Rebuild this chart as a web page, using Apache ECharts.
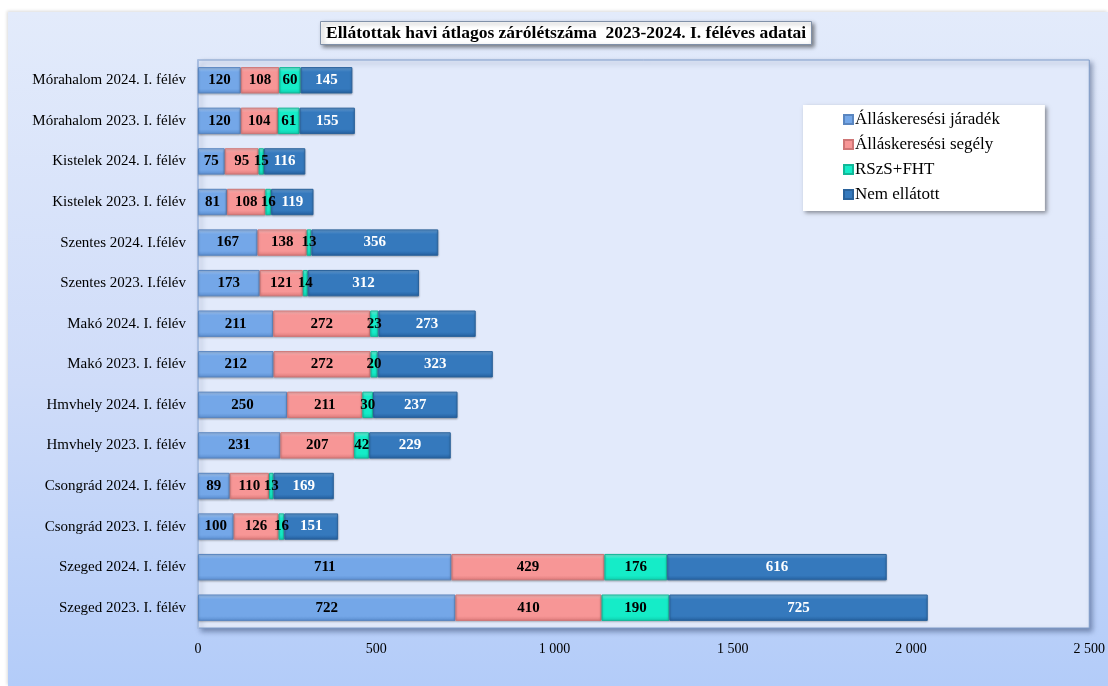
<!DOCTYPE html>
<html>
<head>
<meta charset="utf-8">
<script src="https://cdn.jsdelivr.net/npm/echarts@6/dist/echarts.min.js"></script>
<style>
  html, body { margin: 0; padding: 0; background: #ffffff; }
  #wrap { position: absolute; left: 0; top: 0; width: 1108px; height: 686px; overflow: hidden; }
  #panel { position: absolute; left: 8px; top: 12px; right: 0; bottom: 0;
           background: linear-gradient(to bottom, #e3ebfb 0%, #cfdcf9 55%, #b3ccf9 100%);
           box-shadow: -1px -1px 3px rgba(0,0,0,0.15); }
  #chart { position: absolute; left: 0; top: 0; width: 1108px; height: 686px; }
</style>
</head>
<body>
<div id="wrap">
  <div id="panel"></div>
  <div id="chart"></div>
</div>
<script>
// kategóriák alulról felfelé
const categories = [
  'Szeged 2023. I. félév', 'Szeged 2024. I. félév',
  'Csongrád 2023. I. félév', 'Csongrád 2024. I. félév',
  'Hmvhely 2023. I. félév', 'Hmvhely 2024. I. félév',
  'Makó 2023. I. félév', 'Makó 2024. I. félév',
  'Szentes 2023. I.félév', 'Szentes 2024. I.félév',
  'Kistelek 2023. I. félév', 'Kistelek 2024. I. félév',
  'Mórahalom 2023. I. félév', 'Mórahalom 2024. I. félév'
];
const jaradek = [722, 711, 100, 89, 231, 250, 212, 211, 173, 167, 81, 75, 120, 120];
const segely  = [410, 429, 126, 110, 207, 211, 272, 272, 121, 138, 108, 95, 104, 108];
const rszs    = [190, 176, 16, 13, 42, 30, 20, 23, 14, 13, 16, 15, 61, 60];
const nemEll  = [725, 616, 151, 169, 229, 237, 323, 273, 312, 356, 119, 116, 155, 145];
const seriesNames = ['Álláskeresési járadék', 'Álláskeresési segély', 'RSzS+FHT', 'Nem ellátott'];

const serif = '"Liberation Serif", "Times New Roman", serif';

function bevel(top, mid, bottom) {
  return new echarts.graphic.LinearGradient(0, 0, 0, 1, [
    { offset: 0, color: top },
    { offset: 0.18, color: mid },
    { offset: 0.82, color: mid },
    { offset: 1, color: bottom }
  ]);
}

const styles = [
  { fill: bevel('#a9cbf5', '#74a7e8', '#5a8dcf'), border: '#5a86c0', label: '#000' },
  { fill: bevel('#fbb9b9', '#f79696', '#dc7a7a'), border: '#cf7676', label: '#000' },
  { fill: bevel('#7ff8e2', '#15ecc8', '#0fcfae'), border: '#12b898', label: '#000' },
  { fill: bevel('#6aa4dc', '#3579bd', '#245f9e'), border: '#2a629b', label: '#fff' }
];

const values = [jaradek, segely, rszs, nemEll];

const chart = echarts.init(document.getElementById('chart'));
const option = {
  backgroundColor: 'transparent',
  animation: false,
  title: {
    text: 'Ellátottak havi átlagos zárólétszáma  2023-2024. I. féléves adatai',
    left: 320,
    top: 21,
    padding: [3, 6, 3, 6],
    backgroundColor: '#ffffff',
    borderColor: '#8090a8',
    borderWidth: 1,
    shadowBlur: 4,
    shadowColor: 'rgba(0,0,0,0.45)',
    shadowOffsetX: 2,
    shadowOffsetY: 2,
    textStyle: { fontFamily: serif, fontSize: 17.5, fontWeight: 'bold', color: '#000' }
  },
  legend: {
    orient: 'vertical',
    left: 803,
    top: 105,
    padding: [6, 45, 8, 40],
    itemGap: 8,
    itemWidth: 9,
    itemHeight: 9,
    icon: 'rect',
    backgroundColor: '#ffffff',
    shadowBlur: 4,
    shadowColor: 'rgba(0,0,0,0.4)',
    shadowOffsetX: 2,
    shadowOffsetY: 2,
    textStyle: { fontFamily: serif, fontSize: 17, color: '#000', padding: [0, 0, 0, -3] },
    data: seriesNames
  },
  grid: {
    left: 198,
    right: 16,
    top: 60,
    bottom: 58,
    show: true,
    backgroundColor: '#e2eafb',
    borderColor: '#7f9cc9',
    borderWidth: 1,
    shadowBlur: 5,
    shadowColor: 'rgba(40,60,100,0.5)',
    shadowOffsetX: 3,
    shadowOffsetY: 3
  },
  xAxis: {
    type: 'value',
    min: 0,
    max: 2500,
    interval: 500,
    axisLine: { show: false },
    axisTick: { show: false },
    splitLine: { show: false },
    axisLabel: {
      margin: 14,
      fontFamily: serif,
      fontSize: 14,
      color: '#000',
      formatter: v => String(v).replace(/\B(?=(\d{3})+(?!\d))/g, ' ')
    }
  },
  yAxis: {
    type: 'category',
    data: categories,
    axisLine: { show: true, lineStyle: { color: '#a8bde0', width: 2 } },
    axisTick: { show: false },
    axisLabel: { margin: 12, fontFamily: serif, fontSize: 15, color: '#000' }
  },
  series: seriesNames.map((name, i) => ({
    name: name,
    type: 'bar',
    stack: 'total',
    barWidth: '65%',
    data: values[i],
    itemStyle: {
      color: styles[i].fill,
      borderColor: styles[i].border,
      borderWidth: 1,
      shadowBlur: 2,
      shadowColor: 'rgba(0,0,0,0.25)',
      shadowOffsetY: 1
    },
    label: {
      show: true,
      position: 'inside',
      fontFamily: serif,
      fontSize: 15,
      fontWeight: 'bold',
      color: styles[i].label
    }
  }))
};
chart.setOption(option);
</script>
</body>
</html>
